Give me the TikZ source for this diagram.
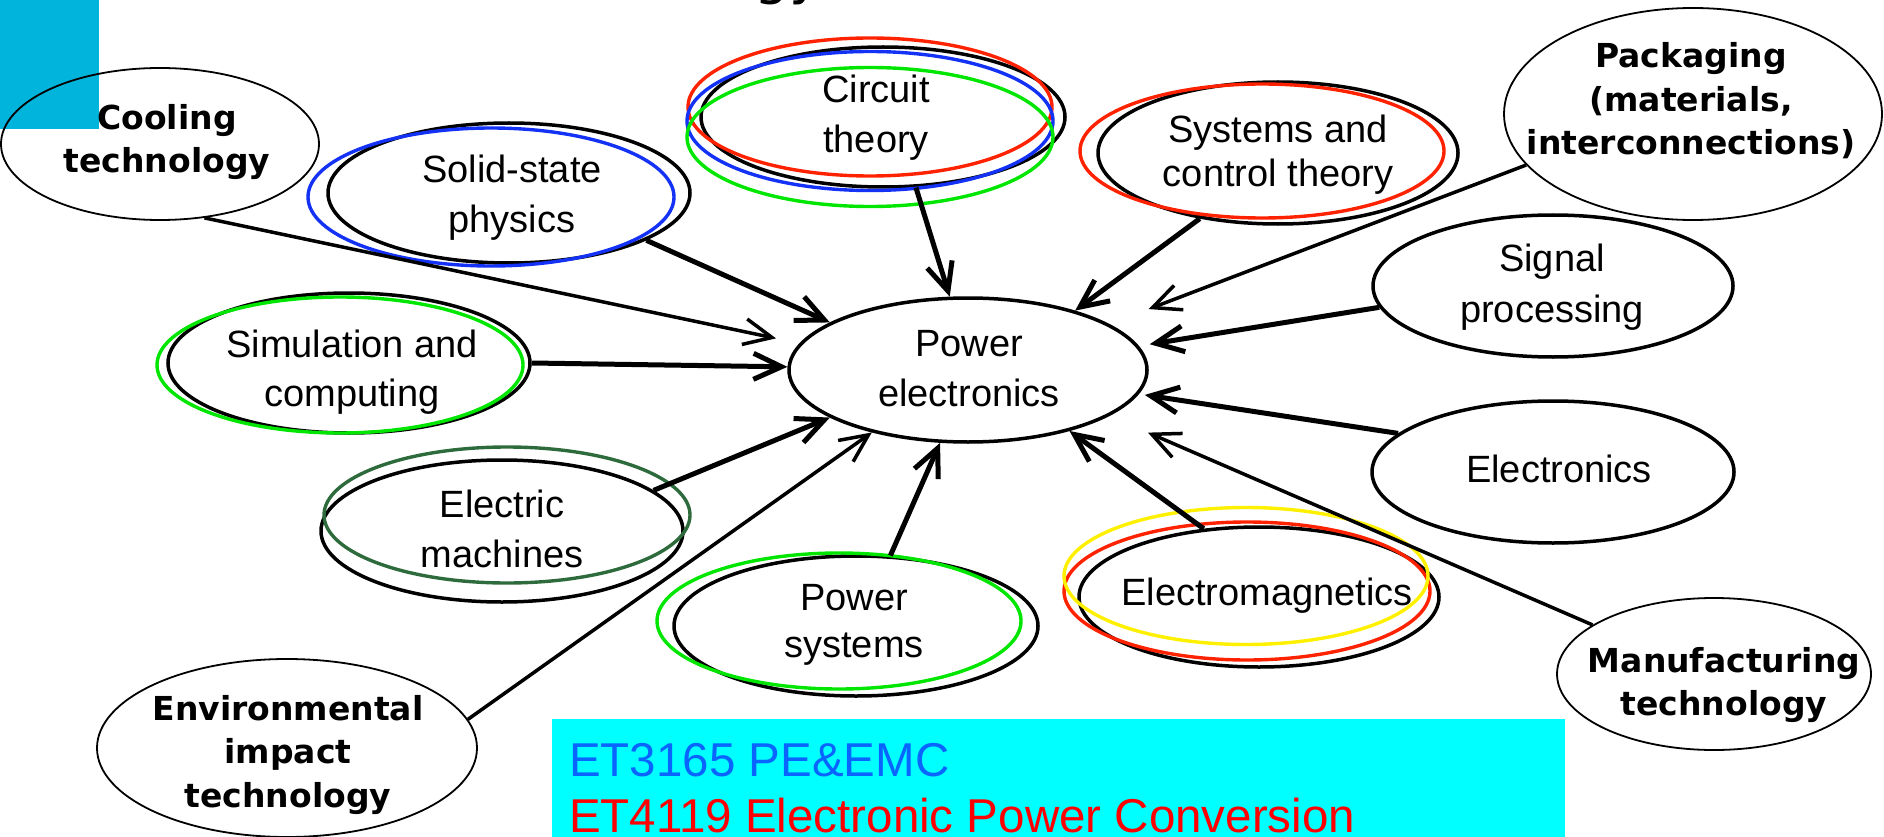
\documentclass[tikz,border=0pt]{standalone}
\usepackage{fontspec}
\setmainfont{Liberation Sans}
\newfontfamily\boldf{DejaVu Sans}
\usetikzlibrary{shapes.geometric,arrows.meta}
\definecolor{cyanbox}{RGB}{0,255,255}
\definecolor{topsq}{RGB}{0,180,220}
\definecolor{ored}{RGB}{255,34,0}
\definecolor{oblue}{RGB}{20,50,245}
\definecolor{ogreen}{RGB}{0,230,0}
\definecolor{dgreen}{RGB}{46,107,60}
\definecolor{oyellow}{RGB}{255,240,0}
\definecolor{tblue}{RGB}{10,100,255}
\definecolor{tred}{RGB}{255,0,0}
\newcommand{\ml}[2][50pt]{\vtop{\baselineskip=#1\lineskiplimit=-100pt\halign{\hfil##\hfil\cr#2\crcr}}}
\begin{document}
\begin{tikzpicture}[x=1pt,y=-1pt,
  ell/.style={ellipse, draw=black, line width=3.5pt, inner sep=0pt},
  ellthin/.style={ellipse, draw=black, line width=1.8pt, inner sep=0pt},
  ring/.style={ellipse, line width=3.4pt, inner sep=0pt},
  rtxt/.style={inner sep=0pt, anchor=base, font=\fontsize{38}{50}\selectfont},
  btxt/.style={inner sep=0pt, anchor=base, font=\boldf\bfseries\fontsize{33}{43}\selectfont},
  arr/.style={line width=5pt, -{Straight Barb[length=28pt,width=26pt]}},
  arrthin/.style={line width=3.5pt, -{Straight Barb[length=28pt,width=26pt]}},
]
\useasboundingbox (0,0) rectangle (1884,837);
\begin{scope}
\clip (0,0) rectangle (1884,837);
\node[anchor=base west, inner sep=0pt, font=\boldf\fontsize{55}{60}\selectfont] (ttl) at (754,-6) {gy};
\end{scope}
\fill[topsq] (0,0) rectangle (99,129);

% Cooling
\node[ellthin, minimum width=318pt, minimum height=152pt] (cool) at (160,144) {};
\node[btxt] (coolt) at (167,130) {\ml[43pt]{Cooling\cr technology}};
% Solid-state
\node[ell, minimum width=362pt, minimum height=140pt] (sol) at (509,193) {};
\node[ring, draw=oblue, minimum width=366pt, minimum height=138pt] (solB) at (491,197) {};
\node[rtxt] (solt) at (512,183) {\ml{Solid-state\cr physics}};
% Circuit
\node[ell, minimum width=364pt, minimum height=140pt] (cir) at (883,117) {};
\node[ring, draw=ored, minimum width=364pt, minimum height=138pt] (cirR) at (870,107) {};
\node[ring, draw=oblue, minimum width=366pt, minimum height=139pt] (cirB) at (870,121) {};
\node[ring, draw=ogreen, minimum width=366pt, minimum height=139pt] (cirG) at (870,137) {};
\node[rtxt] (cirt) at (876,103) {\ml{Circuit\cr theory}};
% Systems
\node[ell, minimum width=360pt, minimum height=142pt] (sys) at (1278,153) {};
\node[ring, draw=ored, minimum width=364pt, minimum height=134pt] (sysR) at (1262,151) {};
\node[rtxt] (syst) at (1278,143) {\ml[44pt]{Systems and\cr control theory}};
% Packaging
\node[ellthin, minimum width=378pt, minimum height=212pt] (pack) at (1693,114) {};
\node[btxt] (packt) at (1691,68) {\ml[43.5pt]{Packaging\cr (materials,\cr interconnections)}};
% Signal
\node[ell, minimum width=360pt, minimum height=142pt] (sig) at (1553,286) {};
\node[rtxt] (sigt) at (1552,271) {\ml[51pt]{Signal\cr processing}};
% Power electronics
\node[ell, minimum width=358pt, minimum height=144pt] (pe) at (968,370) {};
\node[rtxt] (pet) at (969,356) {\ml{Power\cr electronics}};
% Simulation
\node[ell, minimum width=362pt, minimum height=140pt] (sim) at (349,363) {};
\node[ring, draw=ogreen, minimum width=366pt, minimum height=136pt] (simG) at (340,365) {};
\node[rtxt] (simt) at (352,357) {\ml[49pt]{Simulation and\cr computing}};
% Electric machines
\node[ell, minimum width=362pt, minimum height=142pt] (em) at (502,531) {};
\node[ring, draw=dgreen, minimum width=366pt, minimum height=136pt] (emG) at (507,515) {};
\node[rtxt] (emt) at (502,517) {\ml{Electric\cr machines}};
% Power systems
\node[ell, minimum width=364pt, minimum height=140pt] (ps) at (856,626) {};
\node[ring, draw=ogreen, minimum width=364pt, minimum height=136pt] (psG) at (839,621) {};
\node[rtxt] (pst) at (854,610) {\ml[47pt]{Power\cr systems}};
% Electromagnetics
\node[ell, minimum width=360pt, minimum height=140pt] (emag) at (1259,597) {};
\node[ring, draw=ored, minimum width=366pt, minimum height=138pt] (emagR) at (1247,591) {};
\node[ring, draw=oyellow, minimum width=364pt, minimum height=137pt] (emagY) at (1246,576) {};
\node[rtxt] (emagt) at (1267,605) {Electromagnetics};
% Electronics
\node[ell, minimum width=362pt, minimum height=142pt] (elec) at (1553,472) {};
\node[rtxt] (elect) at (1559,482) {Electronics};
% Manufacturing
\node[ellthin, minimum width=314pt, minimum height=152pt] (man) at (1714,674) {};
\node[btxt] (mant) at (1724,672) {\ml[43pt]{Manufacturing\cr technology}};
% Environmental
\node[ellthin, minimum width=380pt, minimum height=178pt] (env) at (287,748) {};
\node[btxt] (envt) at (288,720) {\ml[43.5pt]{Environmental\cr impact\cr technology}};

% Arrows
\draw[arrthin, shorten >=24pt] (cool.-59.3) -- (pe.171.8);
\draw[arr] (sol.-19.9) -- (pe.161.1);
\draw[arr] (sim.0) -- (pe.179);
\draw[arr] (cir.-65.7) -- (pe.104.2);
\draw[arr] (sys.-140.8) -- (pe.29.9);
\draw[arrthin, shorten >=42pt] (pack.-163.9) -- (pe.18.3);
\draw[arr, shorten >=11pt] (sig.-173.4) -- (pe.8.5);
\draw[arr, shorten >=6pt] (elec.166.1) -- (pe.-8.1);
\draw[arrthin, shorten >=42pt] (man.158.9) -- (pe.-18.9);
\draw[arr] (emag.129.7) -- (pe.-31.2);
\draw[arr] (ps.64.4) -- (pe.-111);
\draw[arrthin] (env.9.7) -- (pe.-147.9);
\draw[arr] (em.15.8) -- (pe.-161.6);

% Course box
\node[fill=cyanbox, minimum width=1013pt, minimum height=118pt, anchor=north west, inner sep=0pt] (box) at (552,719) {};
\node[anchor=base west, inner sep=0pt, text=tblue, font=\fontsize{47.5}{57}\selectfont] (l1) at (569,776) {ET3165 PE\&EMC};
\node[anchor=base west, inner sep=0pt, text=tred, font=\fontsize{47.5}{57}\selectfont] (l2) at (569,832) {ET4119 Electronic Power Conversion};
\end{tikzpicture}
\end{document}
